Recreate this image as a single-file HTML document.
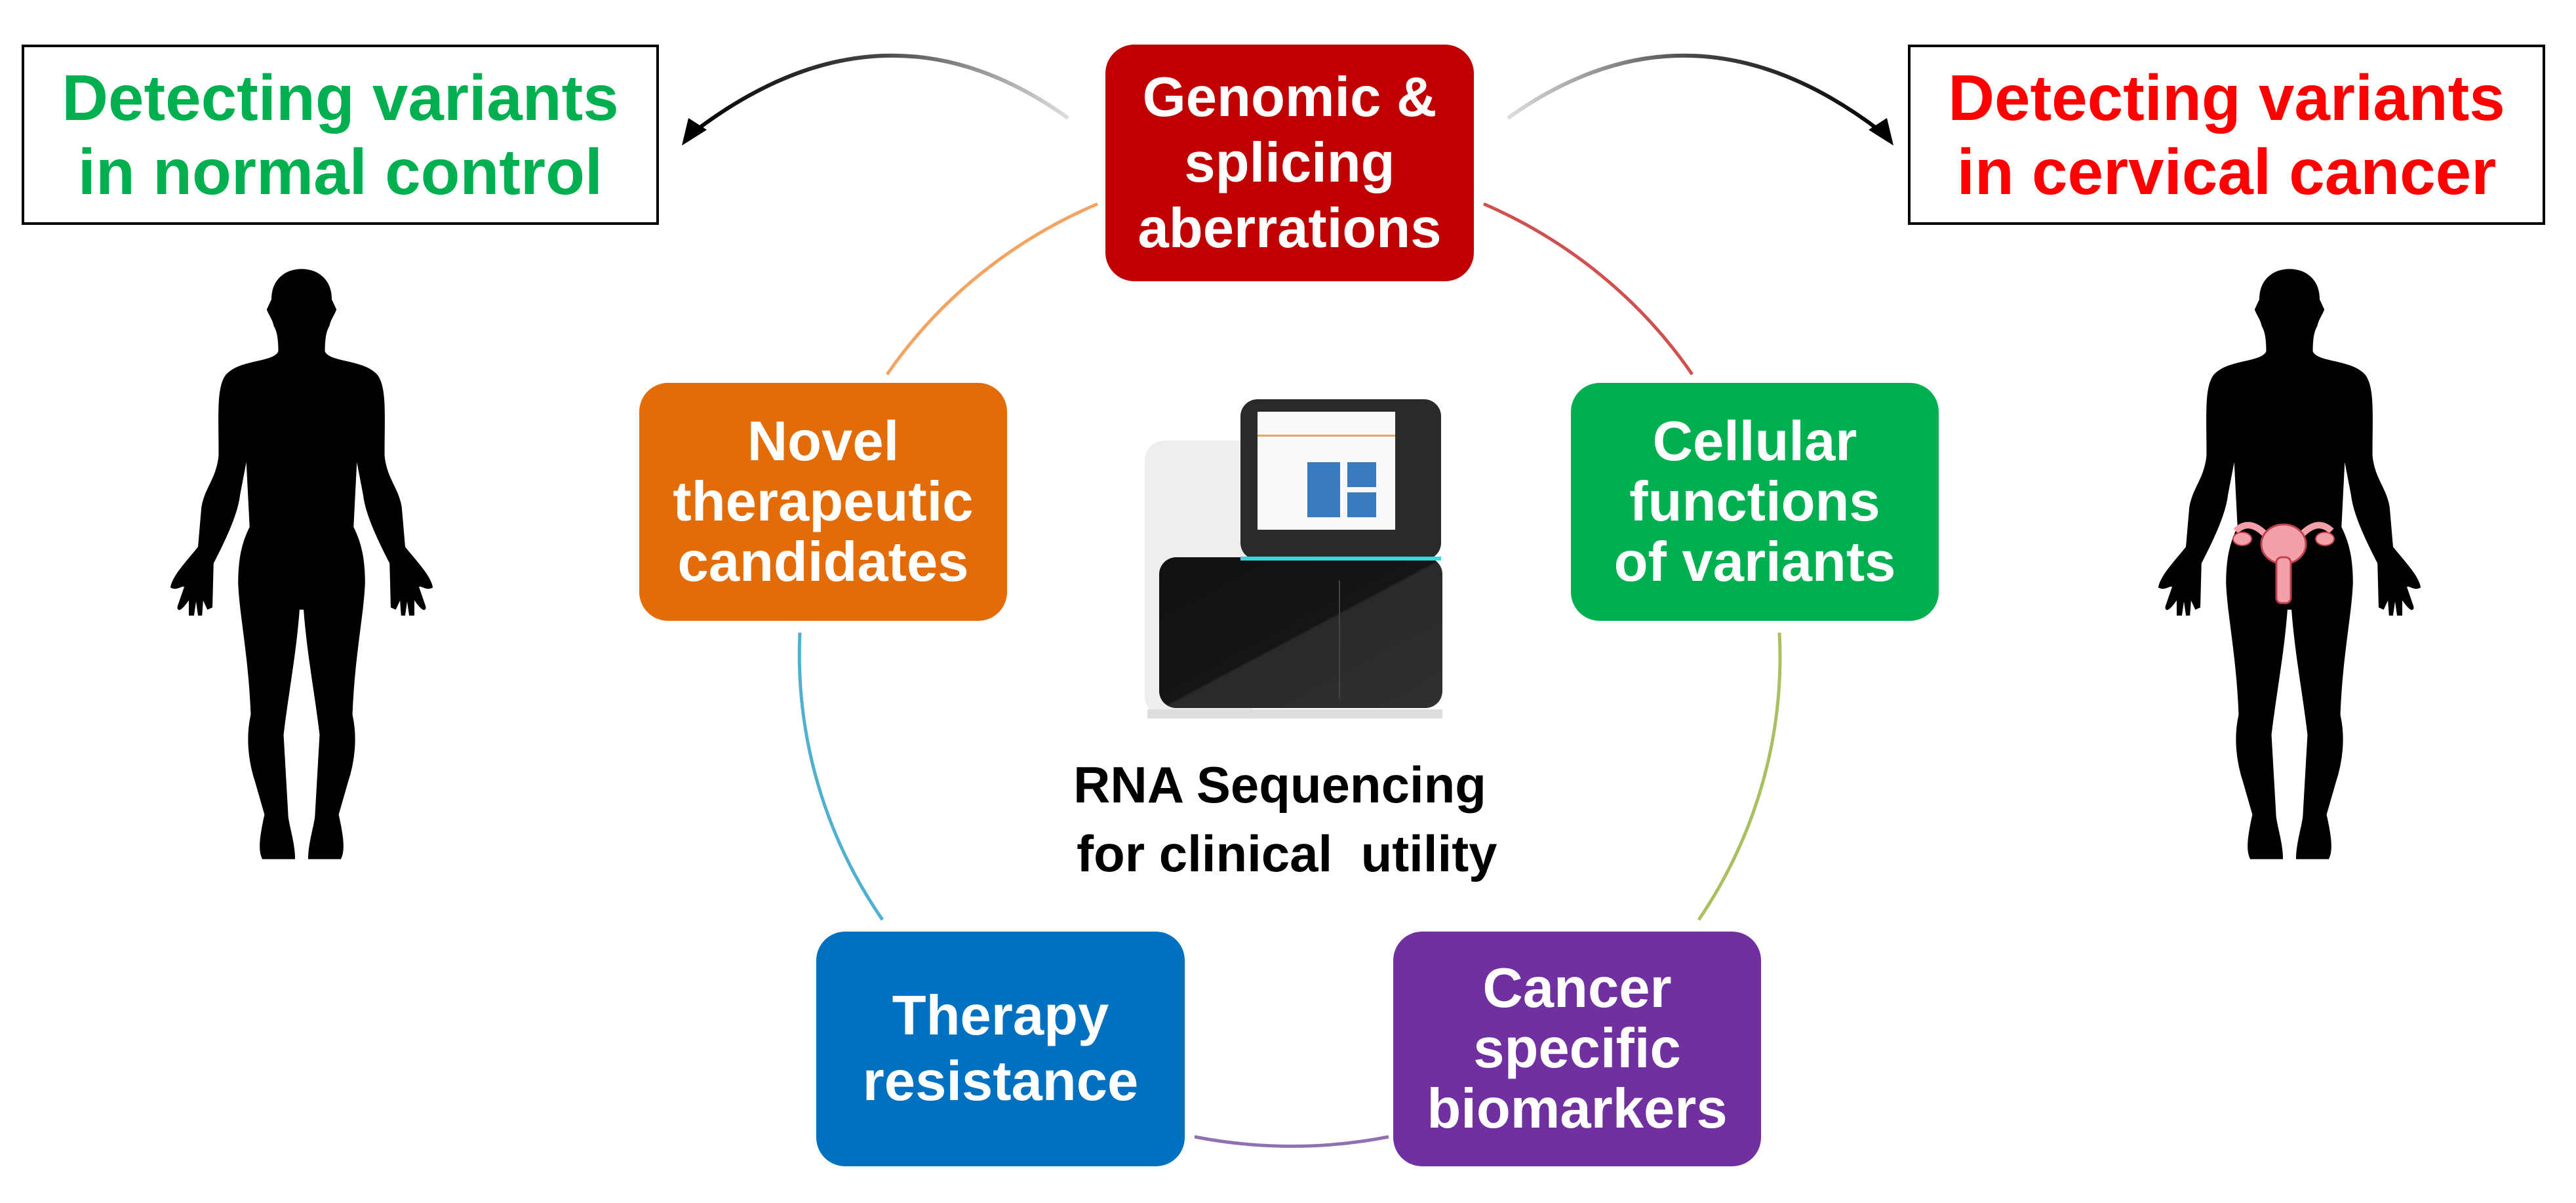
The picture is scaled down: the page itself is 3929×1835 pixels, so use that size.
<!DOCTYPE html>
<html><head><meta charset="utf-8"><style>
html,body{margin:0;padding:0;background:#fff}
body{width:3929px;height:1835px;position:relative;overflow:hidden;font-family:"Liberation Sans",Arial,sans-serif;font-weight:bold}
.b{position:absolute;border-radius:44px;color:#fff;display:flex;align-items:center;justify-content:center;text-align:center;font-size:85px;line-height:92px}
.t{position:absolute;background:#fff;border:4px solid #000;box-sizing:border-box;text-align:center;font-size:98px;line-height:113px;display:flex;align-items:center;justify-content:center}
</style></head><body>
<svg width="3929" height="1835" style="position:absolute;left:0;top:0">
<defs>
<linearGradient id="gl" x1="1629" y1="0" x2="1045" y2="0" gradientUnits="userSpaceOnUse"><stop offset="0" stop-color="#ddd"/><stop offset="0.5" stop-color="#444"/><stop offset="1" stop-color="#000"/></linearGradient>
<linearGradient id="gr" x1="2300" y1="0" x2="2880" y2="0" gradientUnits="userSpaceOnUse"><stop offset="0" stop-color="#ddd"/><stop offset="0.5" stop-color="#444"/><stop offset="1" stop-color="#000"/></linearGradient>
<linearGradient id="dk" x1="0" y1="0" x2="1" y2="1"><stop offset="0" stop-color="#111"/><stop offset="0.5" stop-color="#151515"/><stop offset="0.51" stop-color="#2a2a2a"/><stop offset="1" stop-color="#303030"/></linearGradient>
</defs>
<g fill="none" stroke-width="5">
<path d="M1353,571 A747,727 0 0 1 1674,311" stroke="#f4a460"/>
<path d="M2263,311 A747,727 0 0 1 2581,571" stroke="#d05050"/>
<path d="M2714,965 A747,727 0 0 1 2591,1403" stroke="#a8c060"/>
<path d="M1346,1403 A747,727 0 0 1 1220,965" stroke="#50b0d0"/>
<path d="M2118,1734 A747,727 0 0 1 1822,1734" stroke="#9070b0"/>
<path d="M1629,180 Q1350,-20 1060,200" stroke="url(#gl)" stroke-width="6"/>
<path d="M2300,180 Q2580,-20 2868,200" stroke="url(#gr)" stroke-width="6"/>
</g>
<polygon points="1040,222 1050,180 1078,198" fill="#000"/>
<polygon points="2888,222 2878,180 2850,198" fill="#000"/>
<svg x="250" y="390" width="420" height="950" viewBox="0 0 1200 1560" preserveAspectRatio="none">
<path id="half" d="M600,35 C530,35 470,60 470,110 L450,135 C460,150 475,160 480,175 C495,190 500,210 500,240 C480,270 330,260 270,300 C230,330 240,400 240,500 C230,560 180,580 165,630 L150,730 C110,760 40,800 30,830 C60,840 85,820 90,830 L60,880 C60,890 75,890 110,860 L110,900 130,900 140,860 150,900 165,900 170,860 190,885 210,880 L215,770 C260,720 320,650 330,600 L360,510 L375,680 C340,720 325,760 325,820 C330,900 370,1000 380,1150 C360,1200 365,1260 400,1320 L440,1400 C420,1450 410,1490 430,1510 L570,1510 C570,1470 540,1420 540,1400 L520,1200 C540,1100 575,1000 590,885 L605,885 L605,35 Z" fill="#000" stroke="#000" stroke-width="3"/>
<use href="#half" transform="translate(1200,0) scale(-1,1)"/>
</svg>
<svg x="3282" y="390" width="420" height="950" viewBox="0 0 1200 1560" preserveAspectRatio="none">
<use href="#half"/>
<use href="#half" transform="translate(1200,0) scale(-1,1)"/>
</svg>
<g>
<path d="M3455,815 Q3430,790 3410,810 M3511,815 Q3536,790 3556,810" stroke="#f4a0a8" stroke-width="10" fill="none"/>
<ellipse cx="3483" cy="830" rx="34" ry="30" fill="#f4a0a8" stroke="#c04050" stroke-width="3"/>
<rect x="3472" y="850" width="22" height="70" rx="8" fill="#f4a0a8" stroke="#c04050" stroke-width="3"/>
<ellipse cx="3420" cy="822" rx="14" ry="10" fill="#f4a0a8" stroke="#c04050" stroke-width="2"/>
<ellipse cx="3546" cy="822" rx="14" ry="10" fill="#f4a0a8" stroke="#c04050" stroke-width="2"/>
</g>
<!-- machine -->
<rect x="1746" y="672" width="170" height="420" rx="30" fill="#eeeeee"/>
<rect x="1892" y="609" width="306" height="245" rx="26" fill="#2a2a2a"/>
<rect x="1918" y="628" width="210" height="180" fill="#fafafa"/>
<rect x="1918" y="663" width="210" height="3" fill="#f0a060"/>
<rect x="1994" y="705" width="50" height="84" fill="#3a7ac0"/>
<rect x="2055" y="705" width="44" height="38" fill="#3a7ac0"/>
<rect x="2055" y="751" width="44" height="38" fill="#3a7ac0"/>
<rect x="1768" y="850" width="432" height="230" rx="26" fill="url(#dk)"/>
<rect x="1892" y="849" width="306" height="6" fill="#40d0e8"/>
<rect x="2042" y="885" width="2" height="180" fill="#444"/>
<rect x="1750" y="1082" width="450" height="14" fill="#ddd"/>
</svg>
<div class="t" style="left:33px;top:68px;width:972px;height:275px;color:#00b050">Detecting variants<br>in normal control</div>
<div class="t" style="left:2910px;top:68px;width:972px;height:275px;color:#ff0000">Detecting variants<br>in cervical cancer</div>
<div class="b" style="left:1686px;top:68px;width:562px;height:361px;background:#c00000;line-height:100px">Genomic &amp;<br>splicing<br>aberrations</div>
<div class="b" style="left:975px;top:584px;width:561px;height:363px;background:#e36c09">Novel<br>therapeutic<br>candidates</div>
<div class="b" style="left:2396px;top:584px;width:561px;height:363px;background:#00b050">Cellular<br>functions<br>of variants</div>
<div class="b" style="left:1245px;top:1421px;width:562px;height:358px;background:#0070c0;line-height:100px">Therapy<br>resistance</div>
<div class="b" style="left:2125px;top:1421px;width:561px;height:358px;background:#7030a0">Cancer<br>specific<br>biomarkers</div>
<div style="position:absolute;left:1452px;top:1145px;width:1000px;text-align:center;font-size:78px;line-height:105px;color:#000;white-space:pre">RNA Sequencing
 for clinical  utility</div>
</body></html>
